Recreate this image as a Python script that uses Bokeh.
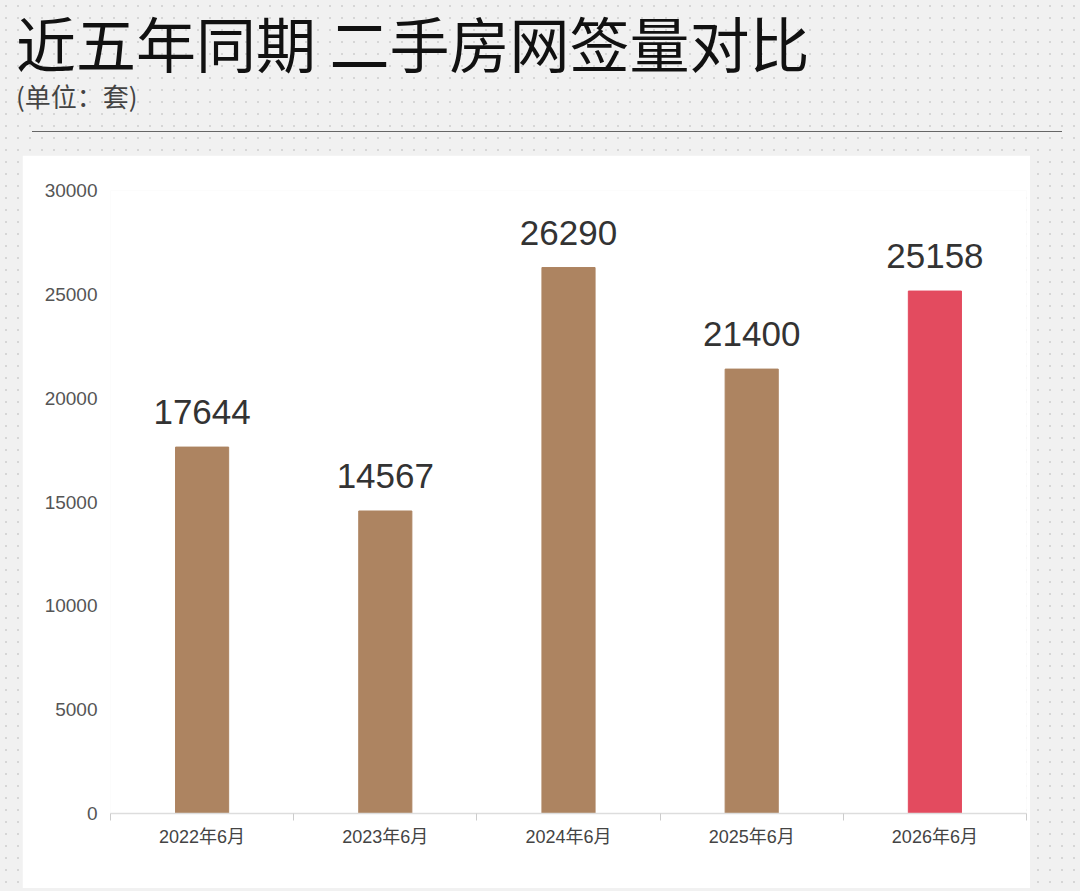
from bokeh.plotting import figure
from bokeh.layouts import column
from bokeh.models import Div, Range1d, FixedTicker, ColumnDataSource
from bokeh.embed import file_html
from bokeh.resources import INLINE
from bokeh.core.properties import value

# ---- data ----
title_text = "近五年同期 二手房网签量对比"
subtitle_text = "(单位：套)"
categories = ["2022年6月", "2023年6月", "2024年6月", "2025年6月", "2026年6月"]
values = [17644, 14567, 26290, 21400, 25158]
bar_colors = ["#AD8461", "#AD8461", "#AD8461", "#AD8461", "#E34B5F"]
y_ticks = [0, 5000, 10000, 15000, 20000, 25000, 30000]
y_max = 30000

# ---- header ----
header = Div(
    text=f"""<div style="position:relative;width:1080px;height:155px;">
<div style="position:absolute;left:16px;top:12px;font-family:'Noto Sans CJK SC';font-size:60px;line-height:60px;color:#111;white-space:nowrap;">{title_text}</div>
<div style="position:absolute;left:16px;top:82px;font-family:'Noto Sans CJK SC';font-size:26px;line-height:28px;color:#444;white-space:nowrap;">{subtitle_text}</div>
<div style="position:absolute;left:32px;top:131px;width:1030px;height:0;border-top:1.5px solid #666;"></div>
</div>""",
    width=1080, height=155, margin=(0, 0, 0, 0),
)

# ---- chart ----
xs = [i + 0.5 for i in range(len(categories))]
src = ColumnDataSource(dict(x=xs, top=values, color=bar_colors,
                            label=[str(v) for v in values]))

p = figure(width=1008, height=733, output_backend="svg", toolbar_location=None,
           x_range=Range1d(0, len(categories)), y_range=Range1d(0, y_max),
           margin=(0, 50, 3, 22))
p.min_border_left = 88
p.min_border_right = 4
p.min_border_top = 35
p.min_border_bottom = 75
p.border_fill_color = "white"
p.background_fill_color = "white"
p.outline_line_color = None
p.grid.grid_line_color = None

p.vbar(x="x", top="top", width=0.29, color="color", source=src)
p.text(x="x", y="top", text="label", source=src, y_offset=-35,
       text_align="center", text_baseline="alphabetic",
       text_font=value("Liberation Sans"), text_font_size="35px",
       text_color="#333333")

# y axis
p.yaxis.ticker = FixedTicker(ticks=y_ticks)
p.yaxis.axis_line_color = None
p.yaxis.major_tick_line_color = None
p.yaxis.minor_tick_line_color = None
p.yaxis.major_tick_out = 0
p.yaxis.major_tick_in = 0
p.yaxis.major_label_standoff = 13
p.yaxis.major_label_text_font = "Liberation Sans"
p.yaxis.major_label_text_font_size = "19px"
p.yaxis.major_label_text_color = "#555555"

# x axis
p.xaxis.ticker = FixedTicker(ticks=xs, minor_ticks=list(range(len(categories) + 1)))
p.xaxis.major_label_overrides = {x: c for x, c in zip(xs, categories)}
p.xaxis.axis_line_color = "#DDDDDD"
p.xaxis.axis_line_width = 1.5
p.xaxis.major_tick_line_color = None
p.xaxis.major_tick_out = 0
p.xaxis.major_tick_in = 0
p.xaxis.minor_tick_line_color = "#CCCCCC"
p.xaxis.minor_tick_out = 7
p.xaxis.minor_tick_in = 0
p.xaxis.major_label_standoff = 6
p.xaxis.major_label_text_font = "Liberation Sans, Noto Sans CJK SC"
p.xaxis.major_label_text_font_size = "18px"
p.xaxis.major_label_text_color = "#444444"

layout = column(header, p, margin=(0, 0, 0, 0), styles={
    "background-color": "#F1F1F1",
    "background-image": "radial-gradient(#D6D6D6 0.8px, transparent 1px)",
    "background-size": "12px 12px",
})

open("out.html", "w").write(file_html(layout, INLINE))
